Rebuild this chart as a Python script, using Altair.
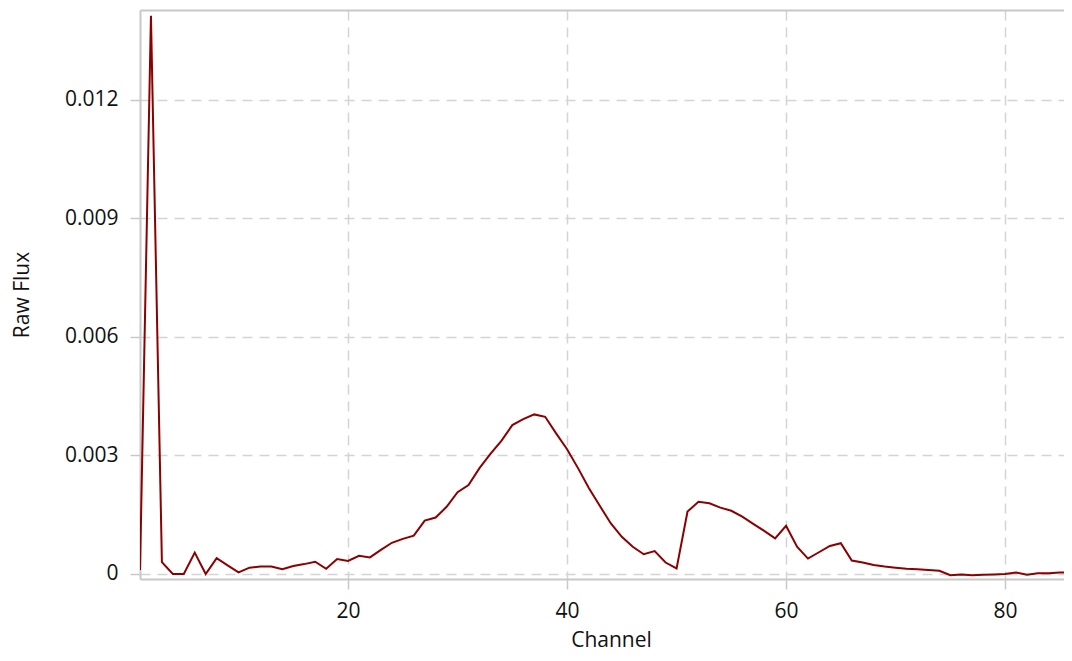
import altair as alt
import pandas as pd

channels = list(range(1, 87))
flux = [
    0.0001, 0.01413, 0.0003, 0.0, 0.0, 0.00054, 0.0, 0.0004, 0.00022, 0.00004,
    0.00016, 0.00019, 0.00019, 0.00012, 0.0002, 0.00025, 0.00031, 0.00013, 0.00038, 0.00033,
    0.00046, 0.00042, 0.00061, 0.00079, 0.00089, 0.00097, 0.00135, 0.00143, 0.0017, 0.00207,
    0.00225, 0.00268, 0.00304, 0.00337, 0.00377, 0.00392, 0.00404, 0.00398, 0.00356, 0.00316,
    0.00268, 0.00217, 0.00172, 0.00128, 0.00094, 0.00069, 0.0005, 0.00058, 0.00029, 0.00014,
    0.00158, 0.00183, 0.00179, 0.00168, 0.0016, 0.00145, 0.00127, 0.00109, 0.0009, 0.00122,
    0.00069, 0.00039, 0.00055, 0.00071, 0.00078, 0.00034, 0.00029, 0.00023, 0.00019, 0.00016,
    0.00013, 0.00012, 0.0001, 0.00008, -0.00003, -0.00001, -0.00003, -0.00002, -0.00001, 0.0,
    0.00004, -0.00002, 0.00002, 0.00002, 0.00004, 0.00004,
]
x_ticks = [20, 40, 60, 80]
y_ticks = [0, 0.003, 0.006, 0.009, 0.012]

df = pd.DataFrame({"Channel": channels, "Raw Flux": flux})

FONT = "Open Sans"
GRID = "#d4d4d4"
AXISC = "#c8c8c8"

x_scale = alt.Scale(domain=[1, 85.38], nice=False, zero=False)
y_scale = alt.Scale(domain=[-0.000127, 0.014278], nice=False, zero=False)

line = alt.Chart(df).mark_line(color="#8b0000", strokeWidth=2, clip=True).encode(
    x=alt.X(
        "Channel:Q",
        scale=x_scale,
        axis=alt.Axis(
            orient="bottom",
            values=x_ticks,
            title="Channel",
            titleX=471,
            titleY=67,
            titleAlign="center",
            titleBaseline="alphabetic",
            labelPadding=11,
            tickSize=10,
            grid=True,
        ),
    ),
    y=alt.Y(
        "Raw Flux:Q",
        scale=y_scale,
        axis=alt.Axis(
            values=y_ticks,
            labelExpr="datum.value == 0 ? '0' : format(datum.value, '.3f')",
            title="Raw Flux",
            titleX=-118,
            titleY=284.5,
            titleAngle=270,
            titleAlign="center",
            titleBaseline="middle",
            labelPadding=12,
            tickSize=10,
            grid=True,
        ),
    ),
)

top_border = alt.Chart(df).mark_line(opacity=0).encode(
    x=alt.X(
        "Channel:Q",
        scale=x_scale,
        axis=alt.Axis(
            orient="top", labels=False, ticks=False, grid=False, title=None, domain=True
        ),
    ),
    y=alt.Y("Raw Flux:Q", scale=y_scale),
)

chart = alt.layer(line, top_border).resolve_axis(x="independent").properties(
    width=924,
    height=569,
    autosize=alt.AutoSizeParams(type="none"),
    padding={"left": 132, "top": 2, "right": 0, "bottom": 73},
).configure_view(
    stroke=None
).configure_axis(
    gridColor=GRID,
    gridDash=[10, 7],
    gridWidth=1.5,
    domainColor=AXISC,
    domainWidth=2,
    tickColor=AXISC,
    tickWidth=1.5,
    labelFont=FONT,
    labelFontSize=21,
    labelColor="#111111",
    titleFont=FONT,
    titleFontSize=21,
    titleFontWeight="normal",
    titleColor="#111111",
)

chart.save("out.html", embed_options={"renderer": "svg", "actions": False})
